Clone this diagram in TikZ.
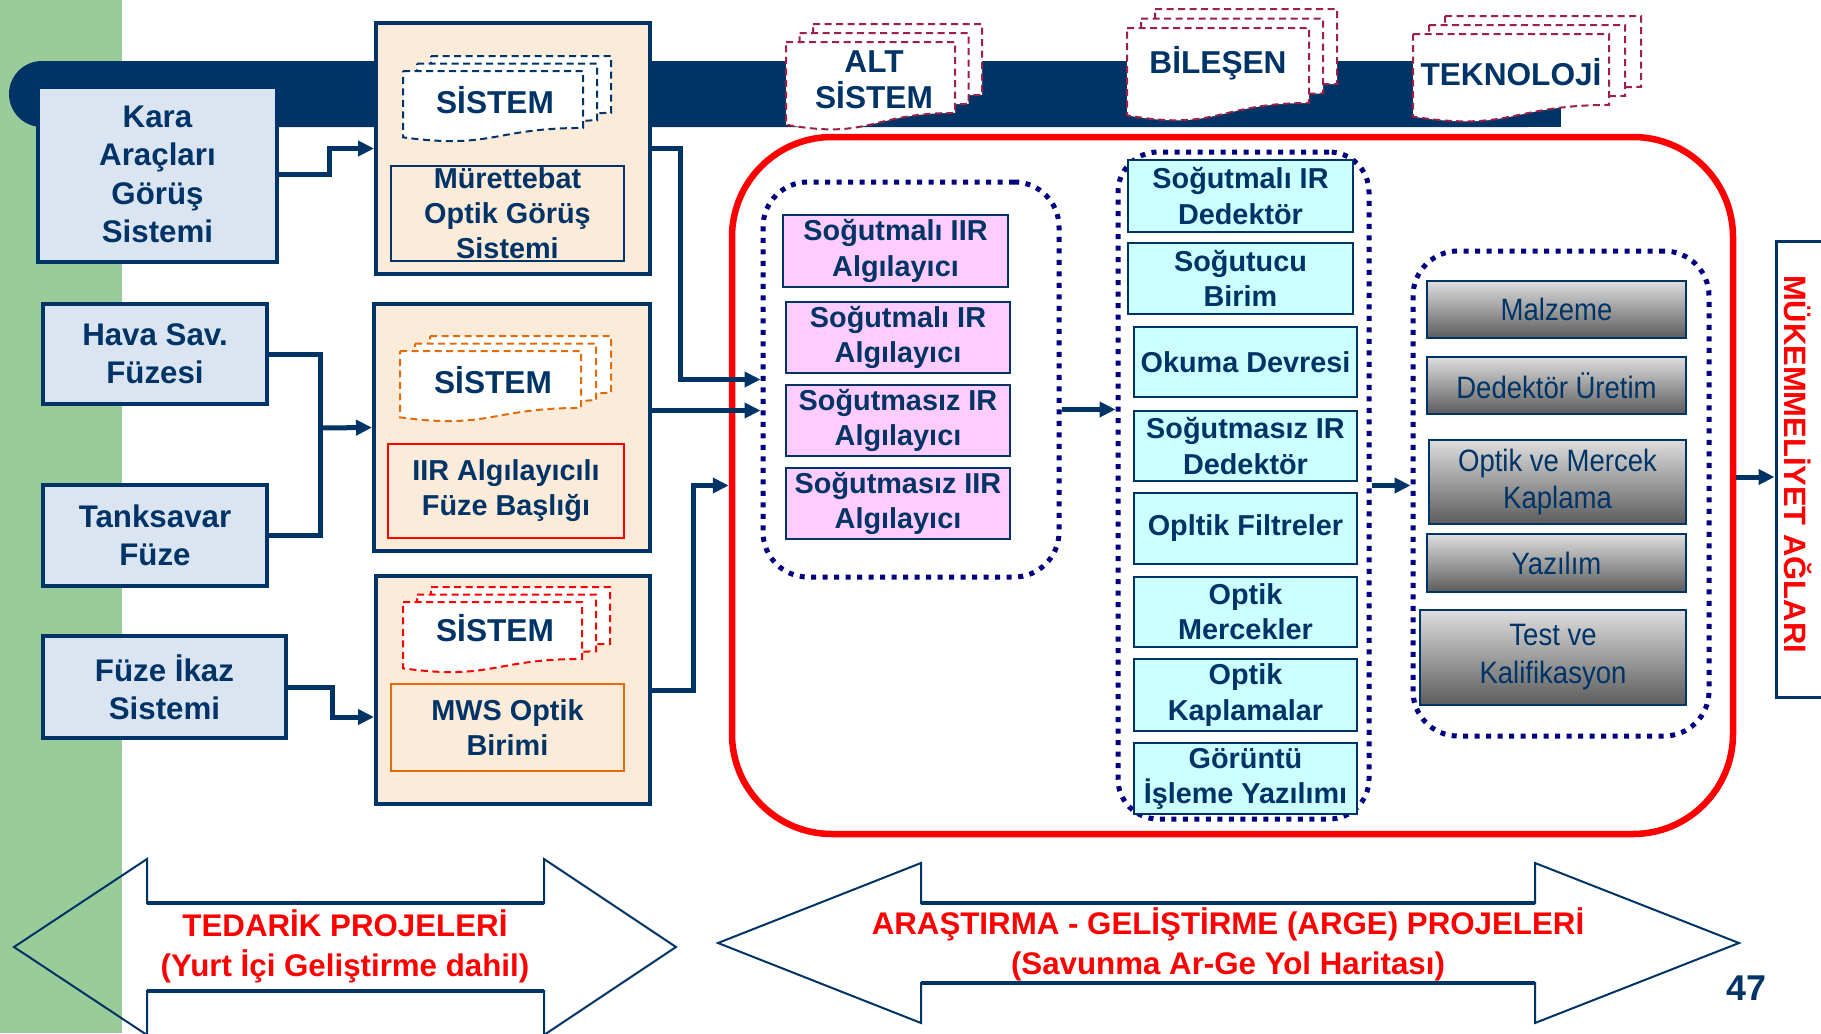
\documentclass[tikz,border=0pt]{standalone}
\usepackage{fontspec}
\setmainfont{Liberation Sans}
\newfontfamily\narrowfont{Liberation Sans}[FakeStretch=0.89]
\usepackage{xcolor}
\definecolor{navy}{rgb}{0,0.2,0.4}
\definecolor{dotblue}{rgb}{0,0,0.5}
\definecolor{leaf}{rgb}{0.6,0.8,0.6}
\definecolor{peach}{rgb}{0.99,0.92,0.85}
\definecolor{paleblue}{rgb}{0.86,0.9,0.95}
\definecolor{pinkfill}{rgb}{1,0.8,1}
\definecolor{cyanfill}{rgb}{0.8,1,1}
\definecolor{maroon}{rgb}{0.62,0.12,0.28}
\definecolor{amber}{rgb}{0.89,0.42,0.04}
\definecolor{greytop}{rgb}{0.87,0.87,0.87}
\definecolor{greybot}{rgb}{0.36,0.36,0.36}
\usetikzlibrary{arrows.meta}

% dashed "document" page, (x,y) is the top left corner
\newcommand{\docpage}[5]{%
  \draw[#5] ({#1},{#2}) -- ({#1+#3},{#2}) -- ({#1+#3},{#2+0.802*#4})
    .. controls ({#1+0.5*#3},{#2+0.802*#4}) and ({#1+0.5*#3},{#2+1.1075*#4})
    .. ({#1},{#2+0.934*#4}) -- cycle;}
% three pages, one behind the other
\newcommand{\docstack}[7]{%
  \docpage{#1+2*#5}{#2-2*#6}{#3}{#4}{#7}
  \docpage{#1+#5}{#2-#6}{#3}{#4}{#7}
  \docpage{#1}{#2}{#3}{#4}{#7}}

\begin{document}
\begin{tikzpicture}[x=1cm, y=-1cm,
  >={Triangle[length=0.16cm,width=0.15cm]},
  every node/.style={inner sep=0pt, align=center, text=navy, font=\fontsize{8.2}{10}\selectfont\bfseries},
  srcbox/.style={draw=navy, line width=0.033cm, fill=paleblue, font=\fontsize{8.9}{10.9}\selectfont\bfseries},
  sysbox/.style={draw=navy, line width=0.04cm, fill=peach},
  unitbox/.style={line width=0.018cm, fill=peach},
  subbox/.style={draw=navy, line width=0.025cm, fill=pinkfill},
  partbox/.style={draw=navy, line width=0.025cm, fill=cyanfill},
  techbox/.style={draw=navy, line width=0.02cm, top color=greytop, bottom color=greybot, font=\narrowfont\fontsize{8.8}{10.8}\selectfont},
  grp/.style={draw=dotblue, line width=0.05cm, dash pattern=on 0.05cm off 0.065cm, rounded corners=0.45cm},
  page/.style={line width=0.02cm, dash pattern=on 0.07cm off 0.045cm, fill=white},
  tag/.style={font=\fontsize{9}{10.3}\selectfont\bfseries},
  wire/.style={draw=navy, line width=0.05cm},
  conn/.style={wire, ->},
  band/.style={draw=navy, line width=0.02cm},
  project/.style={text=red, font=\fontsize{8.9}{11.2}\selectfont\bfseries}]

  \useasboundingbox (0,0) rectangle (18.21,10.33);
  \fill[white] (0,0) rectangle (18.21,10.33);

  % background
  \fill[leaf] (0,0) rectangle (1.22,10.33);
  \fill[navy, rounded corners=0.33cm] (0.09,0.61) rectangle (15.61,1.27);
  \fill[navy] (15.0,0.61) rectangle (15.61,1.27);

  % level tags
  \docstack{7.86}{0.42}{1.69}{0.885}{0.135}{0.09}{page, draw=maroon}
  \docstack{11.27}{0.28}{1.82}{0.935}{0.14}{0.095}{page, draw=maroon}
  \docstack{14.13}{0.34}{1.96}{0.885}{0.16}{0.09}{page, draw=maroon}
  \node[tag] (altlbl) at (8.74,0.80) {ALT\\SİSTEM};
  \node[tag] (bilesenlbl) at (12.18,0.635) {BİLEŞEN};
  \node[tag] (teknolbl) at (15.11,0.72) {TEKNOLOJİ};

  % ARGE frame and groups
  \node[draw=red, line width=0.065cm, rounded corners=1cm, minimum width=10.01cm, minimum height=6.97cm] (arge) at (12.325,4.855) {};
  \node[grp, minimum width=2.96cm, minimum height=3.95cm] (alt) at (9.11,3.795) {};
  \node[grp, minimum width=2.51cm, minimum height=6.67cm, rounded corners=0.4cm] (bilesen) at (12.435,4.855) {};
  \node[grp, minimum width=2.96cm, minimum height=4.85cm] (tekno) at (15.61,4.935) {};

  % platforms
  \node[srcbox, minimum width=2.39cm, minimum height=1.75cm] (kara) at (1.575,1.745) {Kara\\Araçları\\Görüş\\Sistemi};
  \node[srcbox, minimum width=2.24cm, minimum height=1.00cm] (hava) at (1.55,3.54) {Hava Sav.\\Füzesi};
  \node[srcbox, minimum width=2.24cm, minimum height=1.01cm] (tank) at (1.55,5.355) {Tanksavar\\Füze};
  \node[srcbox, minimum width=2.43cm, minimum height=1.02cm] (ikaz) at (1.645,6.87) {Füze İkaz\\Sistemi};

  % systems
  \node[sysbox, minimum width=2.74cm, minimum height=2.51cm] (crewsys) at (5.13,1.485) {};
  \node[sysbox, minimum width=2.76cm, minimum height=2.47cm] (seekersys) at (5.12,4.275) {};
  \node[sysbox, minimum width=2.74cm, minimum height=2.28cm] (mwssys) at (5.13,6.90) {};

  \docstack{4.03}{0.71}{1.80}{0.71}{0.14}{0.075}{page, draw=navy}
  \docstack{4.00}{3.51}{1.81}{0.71}{0.15}{0.075}{page, draw=amber}
  \docstack{4.03}{6.02}{1.79}{0.71}{0.14}{0.075}{page, draw=red}
  \node[tag] (sysA) at (4.95,1.00) {SİSTEM};
  \node[tag] (sysB) at (4.93,3.80) {SİSTEM};
  \node[tag] (sysC) at (4.95,6.28) {SİSTEM};

  \node[unitbox, draw=navy, minimum width=2.33cm, minimum height=0.95cm] (crew) at (5.075,2.135) {};
  \node (crewtext) at (crew) {Mürettebat\\Optik Görüş\\Sistemi};
  \node[unitbox, draw=red, minimum width=2.36cm, minimum height=0.94cm] (seeker) at (5.06,4.91) {IIR Algılayıcılı\\Füze Başlığı};
  \node[unitbox, draw=amber, minimum width=2.33cm, minimum height=0.87cm] (mws) at (5.075,7.275) {MWS Optik\\Birimi};

  % sub systems
  \node[subbox, minimum width=2.25cm, minimum height=0.72cm] (p1) at (8.955,2.51) {Soğutmalı IIR\\Algılayıcı};
  \node[subbox, minimum width=2.24cm, minimum height=0.71cm] (p2) at (8.98,3.375) {Soğutmalı IR\\Algılayıcı};
  \node[subbox, minimum width=2.24cm, minimum height=0.71cm] (p3) at (8.98,4.205) {Soğutmasız IR\\Algılayıcı};
  \node[subbox, minimum width=2.24cm, minimum height=0.71cm] (p4) at (8.98,5.035) {Soğutmasız IIR\\Algılayıcı};

  % components
  \node[partbox, minimum width=2.25cm, minimum height=0.72cm] (c1) at (12.405,1.96) {Soğutmalı IR\\Dedektör};
  \node[partbox, minimum width=2.25cm, minimum height=0.71cm] (c2) at (12.405,2.785) {Soğutucu\\Birim};
  \node[partbox, minimum width=2.23cm, minimum height=0.70cm] (c3) at (12.455,3.62) {Okuma Devresi};
  \node[partbox, minimum width=2.23cm, minimum height=0.70cm] (c4) at (12.455,4.46) {Soğutmasız IR\\Dedektör};
  \node[partbox, minimum width=2.23cm, minimum height=0.71cm] (c5) at (12.455,5.285) {Opltik Filtreler};
  \node[partbox, minimum width=2.23cm, minimum height=0.70cm] (c6) at (12.455,6.12) {Optik\\Mercekler};
  \node[partbox, minimum width=2.23cm, minimum height=0.72cm] (c7) at (12.455,6.95) {Optik\\Kaplamalar};
  \node[partbox, minimum width=2.23cm, minimum height=0.71cm] (c8) at (12.455,7.785) {Görüntü\\İşleme Yazılımı};

  % technologies
  \node[techbox, minimum width=2.59cm, minimum height=0.57cm] (t1) at (15.565,3.095) {Malzeme};
  \node[techbox, minimum width=2.59cm, minimum height=0.57cm] (t2) at (15.565,3.855) {Dedektör Üretim};
  \node[techbox, minimum width=2.57cm, minimum height=0.84cm] (t3) at (15.575,4.82) {Optik ve Mercek\\Kaplama};
  \node[techbox, minimum width=2.59cm, minimum height=0.58cm] (t4) at (15.565,5.63) {Yazılım};
  \node[techbox, minimum width=2.66cm, minimum height=0.95cm] (t5) at (15.53,6.575) {Test ve\\Kalifikasyon};

  % networks
  \node[draw=navy, line width=0.03cm, fill=white, minimum width=0.64cm, minimum height=4.56cm] (muk) at (18.08,4.69) {};
  \node[rotate=-90, text=red, font=\fontsize{8.8}{10}\selectfont\bfseries] (muktext) at (17.98,4.64) {MÜKEMMELİYET AĞLARI};

  % connectors
  \draw[conn] (kara.east) -- ++(0.51,0) |- (crewsys.west);
  \coordinate (join) at (3.20,4.28);
  \draw[wire] (hava.east) -| (join) |- (tank.east);
  \draw[conn] (join) -- (seekersys.west);
  \draw[conn] (ikaz.east) -- ++(0.45,0) |- ([yshift=-0.27cm]mwssys.west);

  \draw[conn] (crewsys.east) -- ++(0.28,0) |- (alt.west);
  \draw[conn] ([yshift=0.17cm]seekersys.east) -- ([yshift=-0.31cm]alt.west);
  \draw[conn] (mwssys.east) -- ++(0.41,0) |- (arge.west);

  \coordinate (a1) at ([yshift=-0.30cm]alt.east);
  \draw[conn] (a1) -- (a1 -| bilesen.west);
  \draw[conn] (bilesen.east) -- (bilesen.east -| tekno.west);
  \coordinate (a2) at ([yshift=0.085cm]arge.east);
  \draw[conn] (a2) -- (a2 -| muk.west);

  % project arrows
  \draw[band] (0.14,9.47) -- (1.47,8.59) -- (1.47,9.03) -- (5.44,9.03) -- (5.44,8.59) -- (6.76,9.47)
    -- (5.44,10.35) -- (5.44,9.91) -- (1.47,9.91) -- (1.47,10.35) -- cycle;
  \draw[band] (7.18,9.43) -- (9.21,8.63) -- (9.21,9.03) -- (15.35,9.03) -- (15.35,8.63) -- (17.39,9.43)
    -- (15.35,10.23) -- (15.35,9.83) -- (9.21,9.83) -- (9.21,10.23) -- cycle;
  \draw[navy, line width=0.035cm] (1.47,9.03) -- (5.44,9.03) (1.47,9.91) -- (5.44,9.91)
    (9.21,9.03) -- (15.35,9.03) (9.21,9.83) -- (15.35,9.83);
  \node[project] (tedarik) at (3.45,9.465) {TEDARİK PROJELERİ\\(Yurt İçi Geliştirme dahil)};
  \node[project] (argetext) at (12.28,9.445) {ARAŞTIRMA - GELİŞTİRME (ARGE) PROJELERİ\\(Savunma Ar-Ge Yol Haritası)};

  \node[font=\fontsize{10.2}{12}\selectfont\bfseries] (pagenum) at (17.46,9.88) {47};

\end{tikzpicture}
\end{document}
